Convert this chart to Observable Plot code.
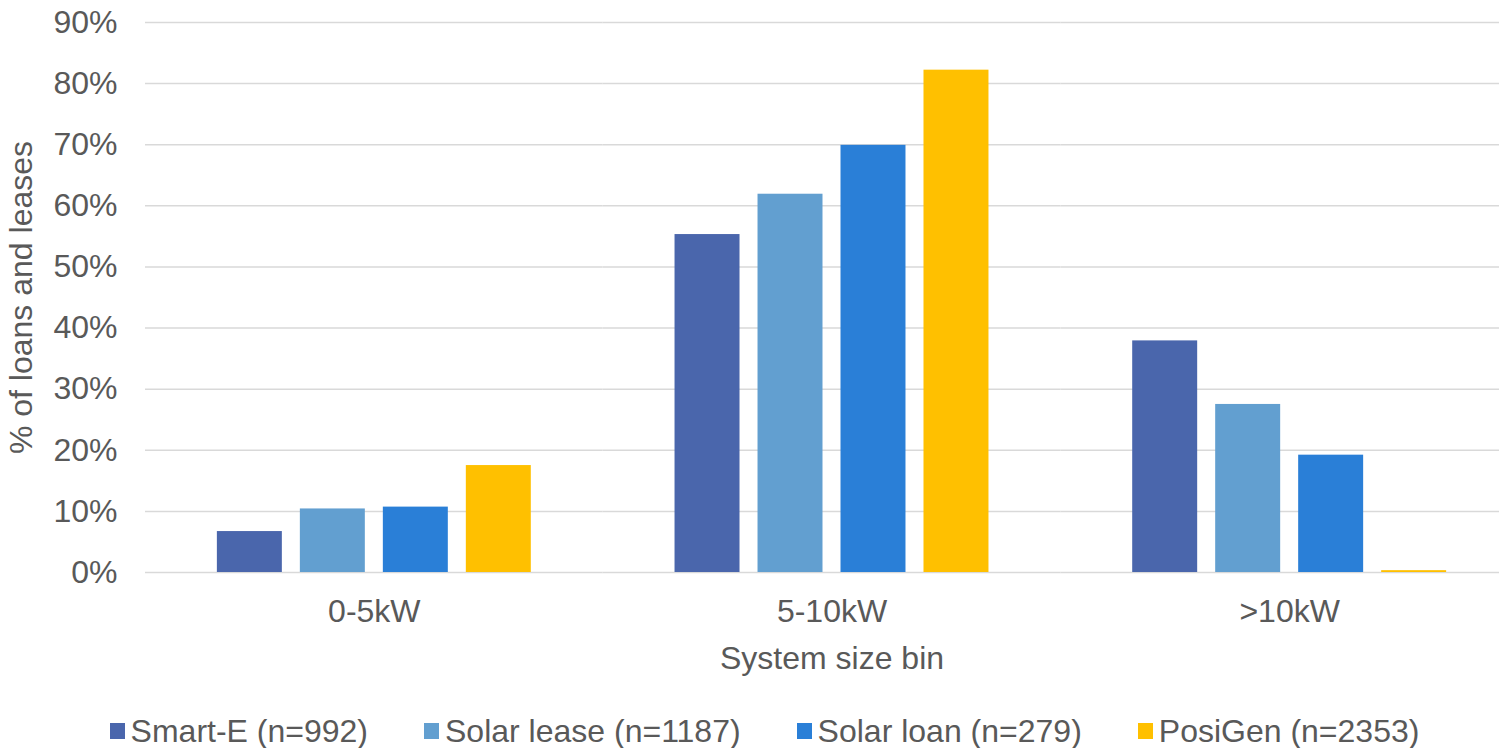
<!DOCTYPE html>
<html>
<head>
<meta charset="utf-8">
<script src="https://cdn.jsdelivr.net/npm/d3@7"></script>
<script src="https://cdn.jsdelivr.net/npm/@observablehq/plot@0.6"></script>
<style>
  html, body { margin: 0; padding: 0; background: #fff; overflow: hidden; }
  #wrap { width: 1499px; height: 748px; overflow: hidden; position: relative;
          font-family: "Liberation Sans", Arial, sans-serif; color: #595959; }
  #chart { position: absolute; left: 0; top: 0; width: 1518px; }
  #chart svg { max-width: none !important; }
  #legend { position: absolute; top: 712px; left: 0; width: 1499px; box-sizing: border-box;
            padding-left: 30px; display: flex; justify-content: center; align-items: center;
            font-size: 32px; line-height: 38px; white-space: nowrap; }
  .item { display: flex; align-items: center; margin: 0 28px; }
  .sw { width: 15px; height: 16px; margin-right: 6px; display: inline-block; }
</style>
</head>
<body>
<div id="wrap">
  <div id="chart"></div>
  <div id="legend"></div>
</div>
<script>
// Categories
const bins = ["0-5kW", "5-10kW", ">10kW"];
const series = ["Smart-E (n=992)", "Solar lease (n=1187)", "Solar loan (n=279)", "PosiGen (n=2353)"];
const colors = ["#4A66AC", "#629FD0", "#2A7FD7", "#FFC000"];
// Values (% of loans and leases), per bin
const smartE     = [6.7, 55.3, 37.9];
const solarLease = [10.4, 61.9, 27.5];
const solarLoan  = [10.7, 69.9, 19.2];
const posiGen    = [17.5, 82.2, 0.3];
const yTicks = [0, 10, 20, 30, 40, 50, 60, 70, 80, 90];

const valuesBySeries = [smartE, solarLease, solarLoan, posiGen];
const data = [];
bins.forEach((b, i) => {
  series.forEach((s, j) => {
    data.push({bin: b, series: s, value: valuesBySeries[j][i] / 100});
  });
});

const font = '"Liberation Sans", Arial, sans-serif';
const chart = Plot.plot({
  width: 1518,
  height: 690,
  marginLeft: 145,
  marginRight: 0,
  marginTop: 22,
  marginBottom: 118,
  facet: {marginTop: 0, marginRight: 0, marginBottom: 0, marginLeft: 0},
  style: {fontFamily: font, color: "#595959", background: "transparent", overflow: "visible", maxWidth: "none"},
  fx: {domain: bins, paddingInner: 0, paddingOuter: 0, round: false},
  x: {domain: series, paddingInner: 0.217, paddingOuter: 0.866, round: false, axis: null},
  y: {domain: [0, 0.9]},
  color: {domain: series, range: colors},
  marks: [
    Plot.gridY(yTicks.map(d => d / 100), {stroke: "#d9d9d9", strokeOpacity: 1, strokeWidth: 1.5}),
    Plot.barY(data, {fx: "bin", x: "series", y: "value", fill: "series"}),
    Plot.axisY(yTicks.map(d => d / 100), {
      tickFormat: d => Math.round(d * 100) + "%",
      tickSize: 0, tickPadding: 28, fontSize: 32, fill: "#595959",
      label: "% of loans and leases", labelAnchor: "center", labelArrow: "none", labelOffset: 136
    }),
    Plot.axisFx({
      anchor: "bottom",
      tickSize: 0, tickPadding: 27, fontSize: 32, fill: "#595959",
      label: "System size bin", labelAnchor: "center", labelArrow: "none", labelOffset: 96
    })
  ]
});
document.getElementById("chart").appendChild(chart);

// Legend
const legend = document.getElementById("legend");
series.forEach((s, j) => {
  const it = document.createElement("div");
  it.className = "item";
  const sw = document.createElement("span");
  sw.className = "sw";
  sw.style.background = colors[j];
  const tx = document.createElement("span");
  tx.textContent = s;
  it.appendChild(sw);
  it.appendChild(tx);
  legend.appendChild(it);
});
</script>
</body>
</html>
